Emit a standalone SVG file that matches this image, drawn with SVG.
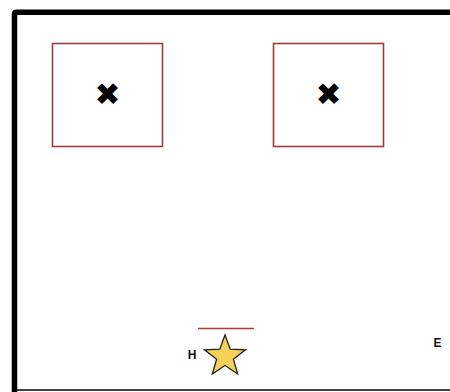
<svg xmlns="http://www.w3.org/2000/svg" width="450" height="392" viewBox="0 0 450 392">
<style>
.room{fill:#fff;stroke:#a33a3a;stroke-width:1.6}
.mark{font-family:"DejaVu Sans",sans-serif;font-size:31px;fill:#000;text-anchor:middle}
.lbl{font-family:"Liberation Sans",Arial,sans-serif;font-weight:bold;font-size:12px;fill:#111;text-anchor:middle}
</style>
<rect width="450" height="392" fill="#fff"/>
<g id="frame">
<path d="M14.5,392 V14 Q14.5,12.3 16.5,12.3 H452" fill="none" stroke="#000" stroke-width="5.5"/>
<line x1="12" y1="390" x2="450" y2="390" stroke="#000" stroke-width="1.3"/>
</g>
<g id="box1">
<rect class="room" x="52.5" y="43.5" width="110" height="103"/>
<text class="mark" x="107.5" y="105">✖</text>
</g>
<g id="box2">
<rect class="room" x="273.5" y="43.5" width="110" height="103"/>
<text class="mark" x="328.5" y="105">✖</text>
</g>
<g id="connectors">
<line x1="198" y1="328.5" x2="254" y2="328.5" stroke="#b03a3a" stroke-width="1.6"/>
</g>
<g id="star">
<polygon points="225,335 230.2,349.2 245.5,349.8 233.4,359.3 237.7,374 225,365.5 212.3,374 216.6,359.3 204.5,349.8 219.8,349.2" fill="#f5d155" stroke="#222" stroke-width="1.3" stroke-linejoin="miter"/>
</g>
<g id="H"><text class="lbl" x="192" y="359">H</text></g>
<g id="E"><text class="lbl" x="437.5" y="346.5">E</text></g>
</svg>
